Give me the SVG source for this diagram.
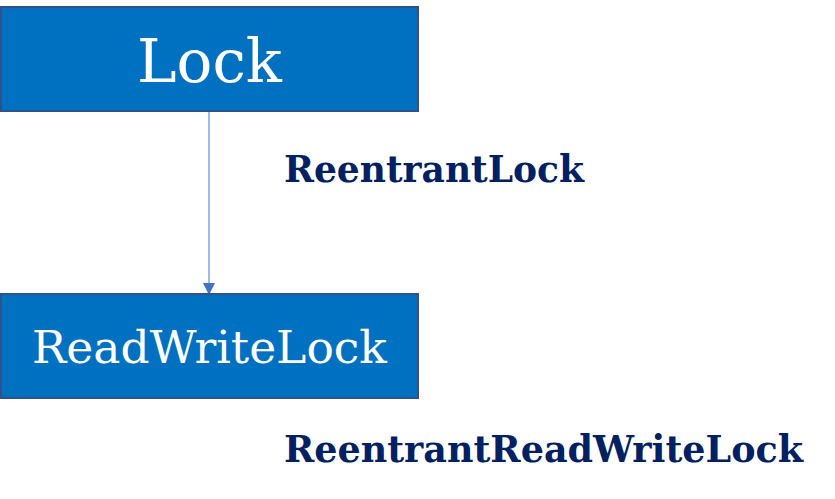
<svg xmlns="http://www.w3.org/2000/svg" width="835" height="499" viewBox="0 0 835 499">
<style>
.box{fill:#0070C0;stroke:#2F528F;stroke-width:2}
.bt{fill:#fff;font-family:"DejaVu Serif",serif}
.lbl{fill:#002060;font-family:"DejaVu Serif",serif;font-weight:bold}
</style>
<defs>
<marker id="ah" markerWidth="12" markerHeight="12" refX="12" refY="6" orient="auto" markerUnits="userSpaceOnUse">
<path d="M0,0 L12,6 L0,12 Z" fill="#4472C4"/>
</marker>
</defs>
<rect width="835" height="499" fill="#fff"/>
<g id="connectors">
<line x1="209" y1="111" x2="209" y2="295" stroke="#4472C4" stroke-width="1" marker-end="url(#ah)"/>
</g>
<g id="lock">
<rect class="box" x="1" y="7" width="417" height="104"/>
<text class="bt" x="137" y="82" font-size="60" textLength="145" lengthAdjust="spacingAndGlyphs">Lock</text>
</g>
<g id="readwritelock">
<rect class="box" x="1" y="294" width="417" height="104"/>
<text class="bt" x="32" y="363" font-size="45" textLength="355" lengthAdjust="spacingAndGlyphs">ReadWriteLock</text>
</g>
<g id="reentrantlock">
<text class="lbl" x="284" y="182" font-size="38" textLength="300" lengthAdjust="spacingAndGlyphs">ReentrantLock</text>
</g>
<g id="reentrantrwlock">
<text class="lbl" x="284" y="462" font-size="38" textLength="519" lengthAdjust="spacingAndGlyphs">ReentrantReadWriteLock</text>
</g>
</svg>
